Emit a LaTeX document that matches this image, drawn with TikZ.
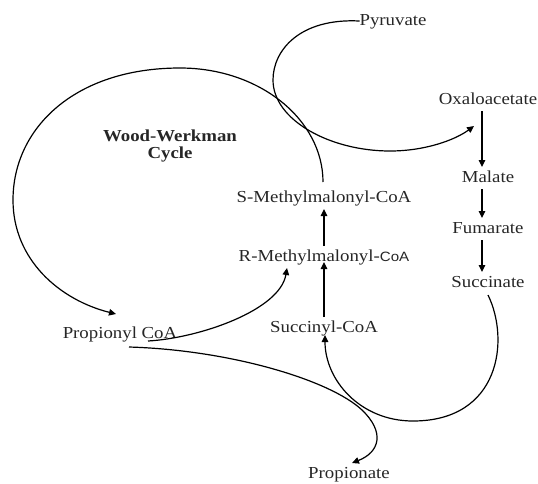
\documentclass[tikz,border=0pt]{standalone}
\usepackage{fontspec}
\setmainfont{Liberation Serif}[FakeStretch=1.12]
\setsansfont{Liberation Sans}[FakeStretch=1.12]
\usetikzlibrary{arrows.meta,calc}
\begin{document}
\begin{tikzpicture}[x=1pt,y=-1pt,
  lbl/.style={anchor=base,inner sep=0pt,outer xsep=0pt,outer ysep=3pt,
    text height=12pt,text depth=4pt,font=\fontsize{16.8}{17}\selectfont,text=black!85},
  title/.style={inner sep=0pt,align=center,font=\fontsize{16.8}{17}\selectfont\bfseries,text=black!85},
  conn/.style={line width=1.2pt,-{Triangle[length=7pt,width=6.5pt]}},
]
\useasboundingbox (0,0) rectangle (538,483);

% nodes
\node[lbl] (pyr) at (393,25) {Pyruvate};
\node[lbl] (oxa) at (488,104) {Oxaloacetate};
\node[lbl] (mal) at (488,182) {Malate};
\node[lbl] (fum) at (488,233) {Fumarate};
\node[lbl] (suc) at (488,287) {Succinate};
\node[lbl] (smm) at (324,202) {S-Methylmalonyl-CoA};
\node[lbl] (rmm) at (324,261) {R-Methylmalonyl-{\sffamily\fontsize{13.5}{14}\selectfont CoA}};
\node[lbl] (sco) at (324,332) {Succinyl-CoA};
\node[lbl] (pco) at (120,338) {Propionyl CoA};
\node[lbl] (pro) at (349,478) {Propionate};
\node[title] (ww) at (170,146) {Wood-Werkman\\Cycle};

% Wood-Werkman cycle arc
\draw[conn] ($(smm.north)+(-1,-5)$) .. controls (323,120) and (260,68) .. (180,68)
  .. controls (75,68) and (13,128) .. (13,200)
  .. controls (13,260) and (60,300) .. ($(pco.north)+(-4,-9)$);

% Pyruvate loop to Oxaloacetate
\draw[conn] (pyr.west) .. controls (300,18) and (273,50) .. (273,80)
  .. controls (273,120) and (330,151) .. (390,151)
  .. controls (425,151) and (455,140) .. ($(oxa.south)+(-14,15)$);

% right column
\draw[conn] ([xshift=-6pt]oxa.south) -- ([xshift=-6pt]mal.north);
\draw[conn] ([xshift=-6pt]mal.south) -- ([xshift=-6pt]fum.north);
\draw[conn] ([xshift=-6pt]fum.south) -- ([xshift=-6pt]suc.north);

% middle column
\draw[conn,shorten >=-6pt] (sco.north) -- (rmm.south);
\draw[conn] (rmm.north) -- (smm.south);

% Propionyl CoA -> R-Methylmalonyl-CoA
\draw[conn] ($(pco.south)+(28,-4)$) .. controls (200,338) and (280,310) .. ($(rmm.south)+(-37,0)$);

% Propionyl CoA -> Propionate
\draw[conn] ($(pco.south)+(9,2)$) .. controls (230,350) and (330,380) .. (362,410)
  .. controls (385,432) and (380,452) .. ($(pro.north)+(3,0)$);

% Succinate -> Succinyl-CoA
\draw[conn] ($(suc.south)+(0,1)$) .. controls (510,340) and (500,421) .. (413,421)
  .. controls (360,421) and (325,380) .. ($(sco.south)+(1,-4)$);
\end{tikzpicture}
\end{document}
